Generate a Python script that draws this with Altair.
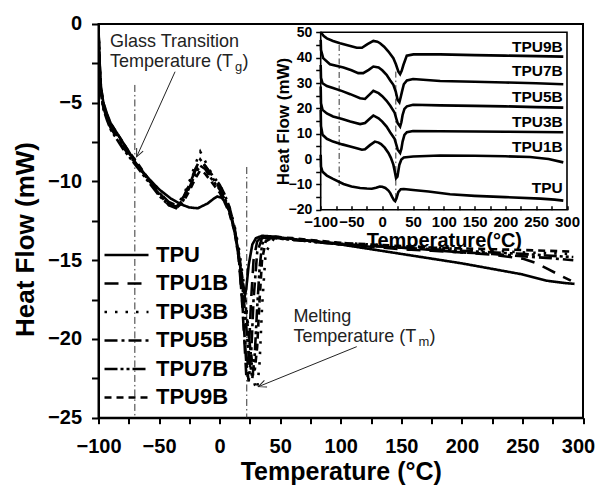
import altair as alt
import pandas as pd

FONT = "Liberation Sans"

series_names = ["TPU", "TPU1B", "TPU3B", "TPU5B", "TPU7B", "TPU9B"]
dash_patterns = [[1, 0], [14, 9], [2.5, 8], [13, 4, 3, 4], [13, 3, 3, 3, 3, 3], [7, 5]]

# ---------------- main panel curves ----------------
tpu_T = [-100, -99, -98, -96, -93, -90, -85, -80, -75, -70, -60, -50, -40, -32, -25, -18, -10, -5, -2, 2,
         6, 10, 13, 16, 18, 20, 21, 22, 24, 27, 30, 35, 45, 60, 80, 100, 125, 150, 175, 200,
         225, 250, 270, 285, 293]
tpu_HF = [-0.3, -2.5, -4.0, -5.0, -5.7, -6.3, -6.9, -7.5, -8.1, -8.75, -9.7, -10.5, -11.1, -11.45, -11.65, -11.7, -11.4, -11.1, -10.95, -11.05,
          -11.5, -12.3, -13.3, -14.8, -16.0, -17.0, -17.2, -16.8, -15.3, -14.0, -13.6, -13.45, -13.5, -13.65, -13.8, -14.0, -14.3, -14.6, -14.9, -15.2,
          -15.55, -15.9, -16.3, -16.45, -16.5]

tpu1b_T = [-100, -99, -98, -96, -93, -90, -85, -80, -75, -70, -60, -50, -42, -36, -30, -25, -20, -16, -12, -8,
           -4, 0, 4, 8, 12, 15, 18, 20, 22, 24, 26, 28, 31, 35, 45, 60, 80, 100, 125, 150,
           175, 200, 225, 250, 262, 272, 282, 290]
tpu1b_HF = [-0.5, -3.0, -4.3, -5.3, -6.0, -6.6, -7.2, -7.8, -8.3, -8.8, -9.8, -10.7, -11.3, -11.5, -11.0, -10.2, -9.3, -8.8, -9.0, -9.4,
            -9.8, -10.2, -10.8, -11.6, -12.8, -14.2, -17.0, -19.5, -22.3, -21.0, -17.5, -15.0, -13.8, -13.5, -13.55, -13.7, -13.85, -14.0, -14.15, -14.3,
            -14.4, -14.5, -14.65, -14.9, -15.2, -15.6, -16.0, -16.3]

tpu3b_T = [-100, -99, -98, -96, -93, -90, -85, -80, -75, -70, -60, -50, -42, -36, -30, -25, -20, -16, -12, -8,
           -4, 0, 4, 8, 12, 16, 20, 24, 27, 29, 31, 33, 35, 38, 45, 60, 80, 100, 125, 150,
           175, 200, 225, 250, 270, 292]
tpu3b_HF = [-0.4, -2.8, -4.2, -5.2, -5.9, -6.5, -7.1, -7.7, -8.3, -8.8, -9.8, -10.8, -11.4, -11.6, -10.9, -10.0, -8.9, -8.1, -8.7, -9.3,
            -9.8, -10.2, -10.8, -11.6, -12.7, -14.3, -16.5, -19.5, -22.0, -22.9, -23.2, -21.5, -18.0, -14.5, -13.6, -13.7, -13.8, -13.9, -14.0, -14.1,
            -14.2, -14.3, -14.4, -14.5, -14.55, -14.6]

tpu5b_T = [-100, -99, -98, -96, -93, -90, -85, -80, -75, -70, -60, -50, -42, -36, -30, -25, -20, -16, -12, -8,
           -4, 0, 4, 8, 12, 16, 19, 22, 24, 26, 28, 31, 35, 40, 50, 60, 80, 100, 125, 150,
           175, 200, 225, 250, 270, 292]
tpu5b_HF = [-0.4, -2.7, -4.1, -5.1, -5.9, -6.4, -7.0, -7.6, -8.2, -8.7, -9.8, -10.8, -11.5, -11.7, -11.1, -10.2, -9.2, -8.6, -9.0, -9.5,
            -10.0, -10.4, -11.0, -11.8, -13.0, -15.0, -18.0, -21.5, -22.7, -21.0, -17.5, -14.5, -13.6, -13.5, -13.6, -13.7, -13.8, -13.95, -14.1, -14.2,
            -14.35, -14.5, -14.6, -14.75, -14.85, -15.0]

tpu7b_T = list(tpu3b_T)
tpu7b_HF = [-0.4, -2.9, -4.4, -5.4, -6.1, -6.7, -7.3, -7.9, -8.4, -8.9, -9.9, -10.9, -11.5, -11.6, -11.2, -10.4, -9.5, -9.0, -9.2, -9.7,
            -10.1, -10.5, -11.1, -11.9, -13.0, -14.8, -17.5, -21.0, -22.5, -21.0, -18.0, -15.5, -14.0, -13.6, -13.6, -13.7, -13.85, -14.0, -14.1, -14.2,
            -14.3, -14.4, -14.5, -14.6, -14.7, -14.8]

tpu9b_T = list(tpu3b_T)
tpu9b_HF = [-0.4, -2.6, -4.0, -5.0, -5.8, -6.3, -6.9, -7.5, -8.1, -8.6, -9.7, -10.7, -11.4, -11.7, -11.3, -10.6, -9.8, -9.3, -9.5, -9.9,
            -10.3, -10.7, -11.3, -12.0, -13.1, -14.6, -16.8, -19.8, -21.6, -22.0, -20.5, -17.5, -15.0, -13.8, -13.5, -13.6, -13.75, -13.9, -14.0, -14.1,
            -14.2, -14.25, -14.3, -14.35, -14.4, -14.45]

# ---------------- inset curves (offset) ----------------
in_tpu_T = [-100, -99.5, -97, -90, -80, -63, -50, -36, -25, -17, -10, -4, 0, 5, 10, 13, 16, 19, 21, 23,
            26, 30, 35, 50, 75, 110, 150, 200, 257, 280, 294]
in_tpu_HF = [1.7, -3.0, -5.0, -6.5, -7.8, -9.8, -10.8, -11.4, -11.6, -11.7, -11.3, -10.8, -10.9, -11.4, -12.4, -13.4, -14.9, -16.2, -16.6, -15.6,
             -13.0, -11.9, -11.8, -12.2, -12.8, -13.9, -14.5, -15.0, -15.6, -16.0, -16.4]

in_tpu1b_T = [-100, -99.5, -97, -90, -80, -65, -52, -40, -33, -28, -20, -12, -6, -2, 4, 10, 14, 18, 20, 22.4,
              24.6, 27.8, 31, 35, 50, 94, 150, 200, 240, 270, 294]
in_tpu1b_HF = [19.4, 13.0, 9.6, 8.0, 6.9, 5.8, 5.0, 4.2, 3.7, 3.9, 5.5, 6.9, 6.5, 5.9, 4.5, 2.4, 0.5, -2.2, -4.5, -7.5,
               -6.9, -2.2, -0.2, 0.6, 1.0, 1.4, 1.3, 1.1, 0.8, 0.0, -1.3]

in_tpu3b_T = [-100, -99.5, -97, -90, -80, -65, -52, -36, -28, -20, -14.5, -6, 0, 7, 13, 20, 23, 25, 29, 31,
              33, 36, 40, 50, 94, 150, 200, 250, 294]
in_tpu3b_HF = [28.6, 22.0, 19.4, 18.0, 16.8, 15.8, 14.8, 13.8, 14.2, 16.0, 17.2, 16.1, 14.8, 12.8, 10.5, 8.0, 5.5, 3.7, 2.4, 4.0,
               6.9, 9.5, 10.6, 11.1, 11.0, 10.9, 10.8, 10.7, 10.6]

in_tpu5b_T = list(in_tpu3b_T)
in_tpu5b_HF = [37.1, 32.0, 29.9, 28.8, 28.0, 26.8, 25.6, 24.0, 23.7, 25.6, 26.9, 26.0, 24.8, 23.0, 21.0, 18.3, 15.8, 14.2, 12.8, 14.5,
               17.4, 19.8, 20.8, 21.4, 21.2, 21.0, 20.8, 20.5, 20.3]

in_tpu7b_T = [-100, -99.5, -96, -85, -63, -50, -39, -31, -22, -14.5, -6, 0, 7, 13, 18, 22, 25, 27.8, 30, 32,
              35, 40, 50, 94, 150, 200, 250, 294]
in_tpu7b_HF = [47.0, 43.0, 39.8, 37.4, 36.1, 35.0, 33.9, 33.9, 35.2, 36.5, 36.1, 35.0, 33.2, 31.0, 29.3, 26.5, 23.3, 22.4, 24.5, 26.6,
               29.5, 31.0, 31.6, 30.8, 30.5, 30.2, 29.9, 29.5]

in_tpu9b_T = [-100, -95, -90, -80, -68.6, -55, -41.5, -33, -24, -14.5, -8, -3.6, 3, 10, 18, 22, 26.2, 29, 31.5, 34.3,
              39.8, 50.6, 94, 150, 200, 250, 294]
in_tpu9b_HF = [50.0, 48.5, 47.6, 46.6, 45.7, 44.8, 43.9, 43.9, 45.3, 46.6, 46.3, 45.7, 44.3, 42.4, 39.8, 37.5, 34.5, 33.5, 34.8, 37.1,
               40.8, 41.3, 41.3, 41.0, 40.8, 40.6, 40.4]

inset_label_T = [293, 293, 293, 293, 293, 293]
inset_label_HF = [-13.4, 2.8, 12.6, 22.4, 32.9, 42.2]

# reference lines (Tg / Tm)
main_vline_T = [-70, 22.4]
main_vline_top = [-3.87, -9.08]
main_vline_bottom = [-25, -25]
inset_vline_T = [-70, 22]
inset_vline_top = [45, 34.5]
inset_vline_bottom = [-10.8, -16.7]

# annotations
ann_text = ["Glass Transition", "Temperature (T", "Melting", "Temperature (T"]
ann_T = [-90.5, -90.5, 60.9, 60.9]
ann_HF = [-1.44, -2.71, -18.90, -20.17]
sub_text = ["g", "m"]
sub_T = [-90.5, 60.9]
sub_HF = [-2.71, -20.17]
arrow_T0 = [-36.8, 113.2]
arrow_HF0 = [-3.03, -20.49]
arrow_T1 = [-68.5, 32.0]
arrow_HF1 = [-8.43, -23.03]
arrow_angle = [204.3, 247.9]


def build(names, Ts, Hs):
    frames = []
    for n, t, h in zip(names, Ts, Hs):
        assert len(t) == len(h), n
        frames.append(pd.DataFrame({"T": t, "HF": h, "series": n}))
    return pd.concat(frames, ignore_index=True)


main_df = build(series_names,
                [tpu_T, tpu1b_T, tpu3b_T, tpu5b_T, tpu7b_T, tpu9b_T],
                [tpu_HF, tpu1b_HF, tpu3b_HF, tpu5b_HF, tpu7b_HF, tpu9b_HF])
inset_df = build(series_names,
                 [in_tpu_T, in_tpu1b_T, in_tpu3b_T, in_tpu5b_T, in_tpu7b_T, in_tpu9b_T],
                 [in_tpu_HF, in_tpu1b_HF, in_tpu3b_HF, in_tpu5b_HF, in_tpu7b_HF, in_tpu9b_HF])
inset_lab_df = pd.DataFrame({"T": inset_label_T, "HF": inset_label_HF, "series": series_names})
main_vl_df = pd.DataFrame({"T": main_vline_T, "HF": main_vline_top, "HF2": main_vline_bottom})
inset_vl_df = pd.DataFrame({"T": inset_vline_T, "HF": inset_vline_top, "HF2": inset_vline_bottom})
ann_df = pd.DataFrame({"T": ann_T, "HF": ann_HF, "txt": ann_text})
sub_df = pd.DataFrame({"T": sub_T, "HF": sub_HF, "txt": sub_text})
arrow_df = pd.DataFrame({"T": arrow_T0, "HF": arrow_HF0, "T2": arrow_T1, "HF2": arrow_HF1, "ang": arrow_angle})

# ---------------- geometry ----------------
W, H = 484.5, 393.7
IN_X0, IN_X1 = 222.2, 468.5
IN_Y0, IN_Y1 = 185.8, 8.3

# ---------------- main scales/axes ----------------
mx_scale = alt.Scale(domain=[-100, 300], nice=False, zero=False)
my_scale = alt.Scale(domain=[-25, 0], nice=False, zero=False)
mx_axis = alt.Axis(values=list(range(-100, 301, 25)),
                   labelExpr="datum.value % 50 == 0 ? datum.label : ''",
                   labelOffset=alt.condition("datum.value == 300", alt.value(-5), alt.value(0)),
                   tickSize=6, tickWidth=2, tickColor="black", domainColor="black", domainWidth=2,
                   labelFont=FONT, labelFontSize=20, labelFontWeight="bold", labelColor="black",
                   labelPadding=13, labelOverlap=False, labelFlush=False,
                   titleFont=FONT, titleFontSize=25, titleFontWeight="bold", titleColor="black",
                   titleY=62, titleBaseline="alphabetic", grid=False)
my_axis = alt.Axis(values=[-25 + 2.5 * i for i in range(11)],
                   labelExpr="datum.value % 5 == 0 ? datum.label : ''",
                   tickSize=7, tickWidth=2, tickColor="black", domainColor="black", domainWidth=2,
                   labelFont=FONT, labelFontSize=20, labelFontWeight="bold", labelColor="black",
                   labelPadding=10, labelOverlap=False, labelFlush=False,
                   titleFont=FONT, titleFontSize=26, titleFontWeight="bold", titleColor="black",
                   titleX=-65, titleY=215, titleAngle=270, titleBaseline="alphabetic", titleAlign="center",
                   grid=False)
XT = "Temperature (°C)"
YT = "Heat Flow (mW)"


def mx(field):
    return alt.X(field, type="quantitative", scale=mx_scale, axis=mx_axis, title=XT)


def my(field):
    return alt.Y(field, type="quantitative", scale=my_scale, axis=my_axis, title=YT)


main_lines = alt.Chart(main_df).mark_line(color="black", strokeWidth=2.6, clip=True).encode(
    x=mx("T"), y=my("HF"),
    strokeDash=alt.StrokeDash("series:N",
                              scale=alt.Scale(domain=series_names, range=dash_patterns),
                              legend=alt.Legend(title=None, orient="none", legendX=16.5, legendY=219.5,
                                                symbolType="M-2.2,0L2.2,0", symbolSize=400,
                                                symbolStrokeWidth=2.6, symbolStrokeColor="black",
                                                labelFont=FONT, labelFontSize=22, labelFontWeight="bold",
                                                labelColor="black", labelOffset=18, rowPadding=5.5,
                                                padding=0, offset=0)),
    detail="series:N")

main_vlines = alt.Chart(main_vl_df).mark_rule(color="#333333", strokeWidth=1, strokeDash=[7, 3, 1.5, 3]).encode(
    x=mx("T"), y=my("HF"), y2="HF2:Q")

ann_main = alt.Chart(ann_df).mark_text(align="left", baseline="alphabetic", font=FONT, fontSize=18,
                                       color="#222222").encode(x=mx("T"), y=my("HF"), text="txt:N")
ann_sub = alt.Chart(sub_df).mark_text(align="left", baseline="alphabetic", font=FONT, fontSize=13,
                                      dx=125, dy=4, color="#222222").encode(x=mx("T"), y=my("HF"), text="txt:N")
paren_g = alt.Chart(sub_df.iloc[[0]]).mark_text(align="left", baseline="alphabetic", font=FONT, fontSize=18,
                                                dx=132.5, color="#222222").encode(
    x=mx("T"), y=my("HF"), text=alt.value(")"))
paren_m = alt.Chart(sub_df.iloc[[1]]).mark_text(align="left", baseline="alphabetic", font=FONT, fontSize=18,
                                                dx=136, color="#222222").encode(
    x=mx("T"), y=my("HF"), text=alt.value(")"))

arrow_lines = alt.Chart(arrow_df).mark_rule(color="#222222", strokeWidth=1).encode(
    x=mx("T"), y=my("HF"), x2="T2:Q", y2="HF2:Q")
arrow_heads = alt.Chart(arrow_df).mark_point(shape="M-0.45,1L0,0L0.45,1", size=250, filled=False,
                                             color="#222222", strokeWidth=1, opacity=1).encode(
    x=mx("T2"), y=my("HF2"), angle=alt.Angle("ang:Q", scale=None))

main_layer = alt.layer(main_vlines, main_lines, ann_main, ann_sub, paren_g, paren_m, arrow_lines, arrow_heads)

# ---------------- inset ----------------
ix_scale = alt.Scale(domain=[-100, 300], range=[IN_X0, IN_X1], nice=False, zero=False)
iy_scale = alt.Scale(domain=[-20, 50], range=[IN_Y0, IN_Y1], nice=False, zero=False)

ix_axis_lab = alt.Axis(orient="bottom", offset=IN_Y0 - H, values=list(range(-100, 301, 50)),
                       ticks=False, tickSize=0, domain=False,
                       labelFont=FONT, labelFontSize=15, labelFontWeight="bold", labelColor="black",
                       labelPadding=5, labelOverlap=False, labelFlush=False,
                       titleFont=FONT, titleFontSize=20, titleFontWeight="bold", titleColor="black",
                       titleY=37, titleBaseline="alphabetic", grid=False)
ix_axis_ticks = alt.Axis(orient="top", offset=-IN_Y0, values=list(range(-100, 301, 25)),
                         labels=False, domain=False, tickSize=4, tickWidth=1.5, tickColor="black",
                         grid=False, title=None)
iy_axis = alt.Axis(orient="left", offset=-IN_X0, values=list(range(-20, 51, 5)),
                   labelExpr="datum.value % 10 == 0 ? datum.label : ''",
                   tickSize=5, tickWidth=1.5, tickColor="black", domain=False,
                   labelFont=FONT, labelFontSize=14, labelFontWeight="bold", labelColor="black",
                   labelPadding=4, labelOverlap=False, labelFlush=False,
                   titleFont=FONT, titleFontSize=17, titleFontWeight="bold", titleColor="black",
                   titleX=-32, titleY=97, titleAngle=270, titleBaseline="alphabetic", titleAlign="center",
                   grid=False)

inset_frame_df = pd.DataFrame({"T": [-100], "T2": [300], "HF": [-20], "HF2": [50]})

inset_frame = alt.Chart(inset_frame_df).mark_rect(fillOpacity=0, stroke="black", strokeWidth=1.6).encode(
    x=alt.X("T:Q", scale=ix_scale, axis=None), x2="T2:Q",
    y=alt.Y("HF:Q", scale=iy_scale, axis=None), y2="HF2:Q")
inset_lines = alt.Chart(inset_df).mark_line(color="black", strokeWidth=2.6, clip=True).encode(
    x=alt.X("T:Q", scale=ix_scale, axis=ix_axis_lab, title="Temperature(°C)"),
    y=alt.Y("HF:Q", scale=iy_scale, axis=iy_axis, title="Heat Flow (mW)"),
    detail="series:N")
inset_labels = alt.Chart(inset_lab_df).mark_text(align="right", baseline="alphabetic", font=FONT, fontSize=15.5,
                                                 fontWeight="bold", color="black").encode(
    x=alt.X("T:Q", scale=ix_scale, axis=ix_axis_ticks),
    y=alt.Y("HF:Q", scale=iy_scale, axis=None), text="series:N")
inset_vlines = alt.Chart(inset_vl_df).mark_rule(color="#333333", strokeWidth=1, strokeDash=[6, 3, 1.5, 3]).encode(
    x=alt.X("T:Q", scale=ix_scale, axis=None),
    y=alt.Y("HF:Q", scale=iy_scale, axis=None), y2="HF2:Q")

inset_layer = alt.layer(inset_frame, inset_vlines, inset_lines, inset_labels).resolve_axis(
    x="independent", y="independent")

chart = alt.layer(main_layer, inset_layer).resolve_scale(
    x="independent", y="independent", strokeDash="shared"
).properties(
    width=W, height=H,
    autosize=alt.AutoSizeParams(type="none"),
    padding={"left": 90.5, "top": 16, "right": 12, "bottom": 67},
).configure(
    font=FONT, background="white",
    view=alt.ViewConfig(stroke="black", strokeWidth=2),
)

chart.save("out.html", embed_options={"renderer": "svg", "actions": False})
